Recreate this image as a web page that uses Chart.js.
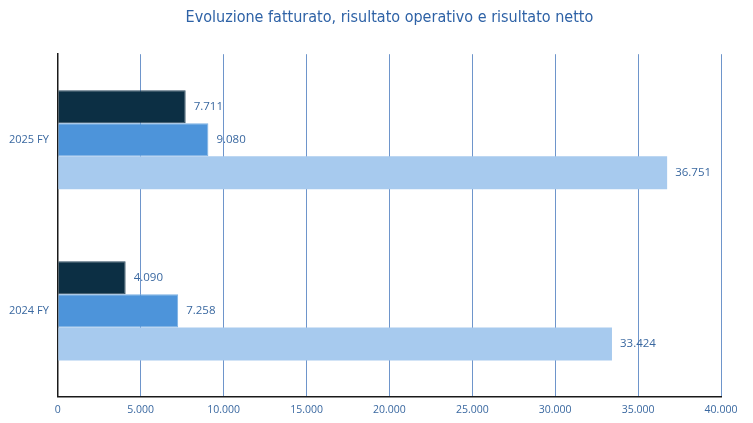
<!DOCTYPE html>
<html>
<head>
<meta charset="utf-8">
<script src="https://cdn.jsdelivr.net/npm/chart.js@4"></script>
<style>
    html, body { margin: 0; padding: 0; background: #fff; }
    #wrap { width: 753px; height: 423px; }
</style>
</head>
<body>
<div id="wrap"><canvas id="chart"></canvas></div>
<script>
// Chart data
const years = ['2025 FY', '2024 FY'];
const risultatoNetto = [7711, 4090];
const risultatoOperativo = [9080, 7258];
const fatturato = [36751, 33424];
const xTicks = [0, 5000, 10000, 15000, 20000, 25000, 30000, 35000, 40000];

const textColor = '#3A68A0';

// Thousands separator with a dot (it-IT skips 4-digit grouping)
function formatNumber(num) {
    return String(Math.round(num)).replace(/\B(?=(\d{3})+(?!\d))/g, '.');
}

// Draw the value at the end of every bar
const valueLabels = {
    id: 'valueLabels',
    afterDatasetsDraw(chart) {
        const ctx = chart.ctx;
        ctx.save();
        ctx.font = '11.5px "Open Sans", "Liberation Sans", sans-serif';
        ctx.fillStyle = textColor;
        ctx.textAlign = 'left';
        ctx.textBaseline = 'middle';
        chart.data.datasets.forEach((ds, i) => {
            chart.getDatasetMeta(i).data.forEach((bar, j) => {
                ctx.fillText(formatNumber(ds.data[j]), bar.x + 8, bar.y);
            });
        });
        ctx.restore();
    }
};

new Chart(document.getElementById('chart'), {
    type: 'bar',
    data: {
        labels: years,
        datasets: [
            {
                label: 'Risultato netto',
                data: risultatoNetto,
                backgroundColor: '#0C2F44',
                borderColor: '#2B4A5E',
                borderWidth: 1
            },
            {
                label: 'Risultato operativo',
                data: risultatoOperativo,
                backgroundColor: '#4D94DA',
                borderColor: '#7AAFE3',
                borderWidth: 1
            },
            {
                label: 'Fatturato',
                data: fatturato,
                backgroundColor: '#A7CAEE',
                borderWidth: 0
            }
        ]
    },
    options: {
        indexAxis: 'y',
        responsive: true,
        maintainAspectRatio: false,
        animation: false,
        categoryPercentage: 0.58,
        barPercentage: 1.0,
        layout: {
            padding: { left: 0, right: 32, top: 0, bottom: 0 }
        },
        plugins: {
            legend: { display: false },
            tooltip: { enabled: false },
            title: {
                display: true,
                fullSize: false,
                text: 'Evoluzione fatturato, risultato operativo e risultato netto',
                color: '#2E62A6',
                font: {
                    family: '"Liberation Sans Narrow", "DejaVu Sans Condensed", sans-serif',
                    size: 16,
                    weight: 'normal'
                },
                padding: { top: 8, bottom: 27 }
            }
        },
        scales: {
            x: {
                min: 0,
                max: 40000,
                afterBuildTicks: axis => {
                    axis.ticks = xTicks.map(v => ({ value: v }));
                },
                grid: {
                    color: '#6E95CB',
                    lineWidth: 1,
                    drawTicks: false
                },
                border: { color: '#1A1A1A', width: 1.5 },
                ticks: {
                    color: textColor,
                    padding: 7,
                    maxRotation: 0,
                    font: { family: '"Open Sans", "Liberation Sans", sans-serif', size: 10.5 },
                    callback: value => formatNumber(value)
                }
            },
            y: {
                grid: { display: false, drawTicks: false },
                border: { color: '#1A1A1A', width: 1.5 },
                ticks: {
                    color: textColor,
                    padding: 9,
                    font: { family: '"Open Sans", "Liberation Sans", sans-serif', size: 11 }
                }
            }
        }
    },
    plugins: [valueLabels]
});
</script>
</body>
</html>
